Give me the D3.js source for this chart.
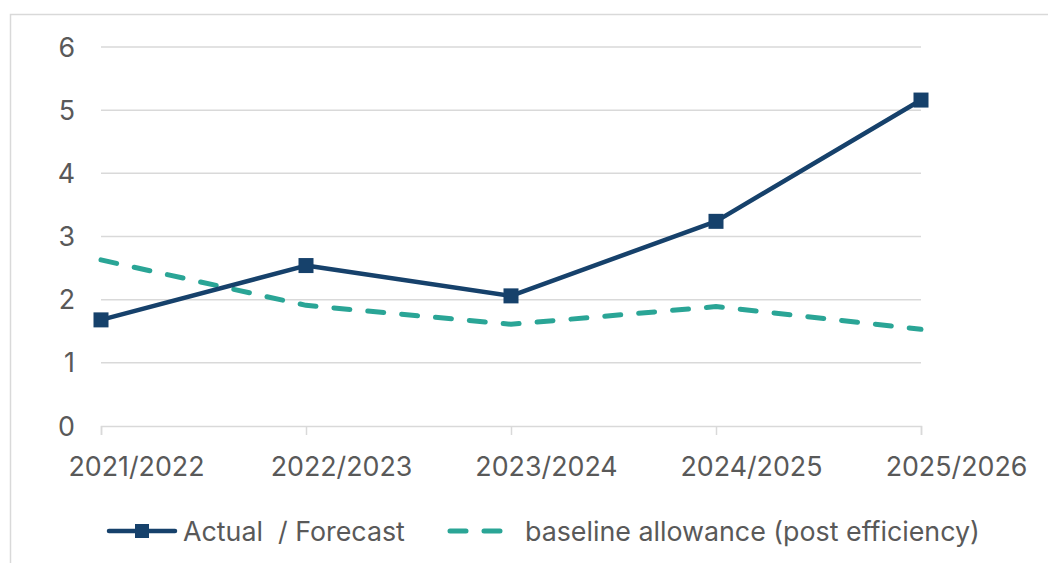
<!DOCTYPE html>
<html lang="en">
<head>
    <meta charset="utf-8">
    <title>Actual / Forecast vs baseline allowance</title>
    <style>
        body {
            margin: 0;
            background: white;
            font-family: Inter, "Open Sans", sans-serif;
        }

        text {
            fill: #595959;
        }

        .grid line {
            stroke: #d9d9d9;
            stroke-width: 1.5;
        }
    </style>
</head>
<body>
    <svg width="1048" height="563"></svg>
    <script src="https://d3js.org/d3.v7.min.js"></script>
    <script>
        const years = ['2021/2022', '2022/2023', '2023/2024', '2024/2025', '2025/2026'];
        const actual = [1.68, 2.54, 2.06, 3.24, 5.16];
        const baseline = [2.63, 1.91, 1.61, 1.89, 1.53];
        const yTicks = [0, 1, 2, 3, 4, 5, 6];

        const seriesNames = ['Actual  / Forecast', 'baseline allowance (post efficiency)'];
        const actualColor = '#16416b',
            baselineColor = '#2aa596';
        const fontSize = '26.8px';

        var svg = d3.select('svg');

        // chart frame
        svg.append('rect')
            .attr('x', 10.5)
            .attr('y', 14.5)
            .attr('width', 1100)
            .attr('height', 600)
            .attr('fill', 'none')
            .attr('stroke', '#d9d9d9')
            .attr('stroke-width', 1.5);

        var x = d3.scalePoint()
            .domain(years)
            .range([101, 921]);

        var y = d3.scaleLinear()
            .domain([0, 6])
            .range([426, 47]);

        // gridlines
        svg.append('g')
            .attr('class', 'grid')
            .selectAll('line')
            .data(yTicks.filter(d => d > 0))
            .enter().append('line')
            .attr('x1', 101)
            .attr('x2', 921)
            .attr('y1', d => y(d))
            .attr('y2', d => y(d));

        // y labels
        svg.append('g').selectAll('text')
            .data(yTicks)
            .enter().append('text')
            .attr('x', 75)
            .attr('y', d => y(d))
            .attr('dy', '0.36em')
            .attr('text-anchor', 'end')
            .style('font-size', fontSize)
            .text(d => d);

        // x axis (labels sit right of their tick, like the original)
        var xAxis = svg.append('g')
            .attr('transform', `translate(0, ${y(0)})`)
            .call(d3.axisBottom(x).tickSize(9).tickPadding(22));
        xAxis.select('.domain').attr('stroke', '#d9d9d9').attr('stroke-width', 1.5);
        xAxis.selectAll('.tick line').attr('stroke', '#d9d9d9').attr('stroke-width', 1.5);
        xAxis.selectAll('.tick text')
            .attr('dx', 35)
            .style('font-size', fontSize)
            .style('font-family', 'Inter, "Open Sans", sans-serif')
            .attr('fill', '#595959');

        var line = d3.line()
            .x((d, i) => x(years[i]))
            .y(d => y(d));

        svg.append('path')
            .datum(baseline)
            .attr('d', line)
            .attr('fill', 'none')
            .attr('stroke', baselineColor)
            .attr('stroke-width', 5)
            .attr('stroke-linecap', 'round')
            .attr('stroke-dasharray', '16 18');

        svg.append('path')
            .datum(actual)
            .attr('d', line)
            .attr('fill', 'none')
            .attr('stroke', actualColor)
            .attr('stroke-width', 4.5)
            .attr('stroke-linejoin', 'round');

        svg.append('g').selectAll('rect')
            .data(actual)
            .enter().append('rect')
            .attr('x', (d, i) => x(years[i]) - 7.5)
            .attr('y', d => y(d) - 7.5)
            .attr('width', 15)
            .attr('height', 15)
            .attr('fill', actualColor);

        // legend
        var legendY = 531;
        var lg = svg.append('g');
        lg.append('line')
            .attr('x1', 109).attr('x2', 175)
            .attr('y1', legendY).attr('y2', legendY)
            .attr('stroke', actualColor)
            .attr('stroke-width', 4.5)
            .attr('stroke-linecap', 'round');
        lg.append('rect')
            .attr('x', 135).attr('y', legendY - 7)
            .attr('width', 14).attr('height', 14)
            .attr('fill', actualColor);
        lg.append('text')
            .attr('x', 183).attr('y', legendY)
            .attr('dy', '0.36em')
            .style('font-size', fontSize)
            .style('white-space', 'pre')
            .text(seriesNames[0]);

        lg.append('line')
            .attr('x1', 450).attr('x2', 513)
            .attr('y1', legendY).attr('y2', legendY)
            .attr('stroke', baselineColor)
            .attr('stroke-width', 5)
            .attr('stroke-linecap', 'round')
            .attr('stroke-dasharray', '16 18');
        lg.append('text')
            .attr('x', 525).attr('y', legendY)
            .attr('dy', '0.36em')
            .style('font-size', fontSize)
            .text(seriesNames[1]);
    </script>
</body>
</html>
